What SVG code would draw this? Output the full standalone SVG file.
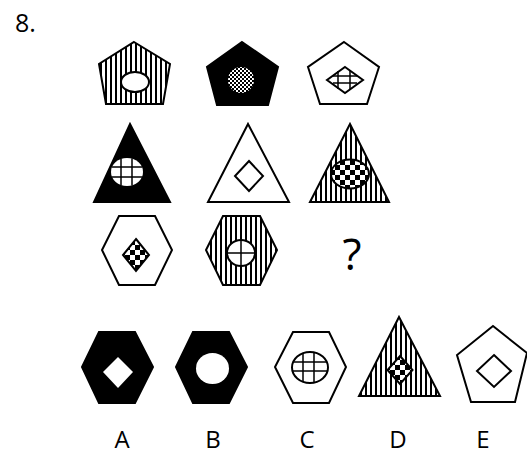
<svg xmlns="http://www.w3.org/2000/svg" width="527" height="455" viewBox="0 0 527 455">
<defs>
<pattern id="vs" width="5" height="5" patternUnits="userSpaceOnUse"><rect width="5" height="5" fill="#fff"/><rect width="2" height="5" fill="#000"/></pattern>
<pattern id="ck" width="10" height="10" patternUnits="userSpaceOnUse"><rect width="10" height="10" fill="#fff"/><rect width="5" height="5" fill="#000"/><rect x="5" y="5" width="5" height="5" fill="#000"/></pattern>
<pattern id="fd" width="4" height="4" patternUnits="userSpaceOnUse"><rect width="4" height="4" fill="#fff"/><rect width="2" height="2" fill="#000"/><rect x="2" y="2" width="2" height="2" fill="#000"/></pattern>
</defs>
<style>
.o{stroke:#000;stroke-width:2;stroke-linejoin:miter}
.w{fill:#fff}
.b{fill:#000}
.s{fill:url(#vs)}
.k{fill:url(#ck)}
.d{fill:url(#fd)}
.l{stroke:#000;stroke-width:1.5;fill:none}
.t{font-family:"Open Sans","Liberation Sans",sans-serif;fill:#000}
</style>
<rect width="527" height="455" fill="#fff"/>
<text class="t" x="15" y="32" font-size="25">8.</text>

<g id="r1c1">
<polygon class="o s" points="134,42 170,64 163,104 106,104 99,64"/>
<ellipse class="o w" cx="135" cy="82" rx="14" ry="10"/>
</g>
<g id="r1c2">
<polygon class="o b" points="242,42 278,67 268,105 217,105 207,67"/>
<ellipse class="d" cx="241" cy="80" rx="13" ry="13"/>
</g>
<g id="r1c3">
<polygon class="o w" points="344,42 379,67 367,104 320,104 308,67"/>
<polygon class="o w" points="345,67 363,80 345,93 327,80"/>
<path class="l" d="M338,71V89M350,71V89M333,76H357M333,83H357"/>
</g>

<g id="r2c1">
<polygon class="o b" points="130,124 170,202 94,202"/>
<ellipse class="w" cx="127" cy="172" rx="16" ry="14"/>
<path class="l" d="M121,158.5V185.5M132,158.5V185.5M111.5,167H142.5M111.5,177H142.5"/>
</g>
<g id="r2c2">
<polygon class="o w" points="248,124 289,202 208,202"/>
<polygon class="o w" points="249,161 263,176 249,191 235,176"/>
</g>
<g id="r2c3">
<polygon class="o s" points="350,124 389,202 310,202"/>
<ellipse class="o k" cx="350" cy="174" rx="19" ry="14.5"/>
</g>

<g id="r3c1">
<polygon class="o w" points="119,216 155,216 172,250 155,285 119,285 102,250"/>
<polygon class="o k" points="136,239 149,255 136,271 123,255"/>
</g>
<g id="r3c2">
<polygon class="o s" points="223,216 260,216 277,250 260,285 223,285 206,250"/>
<ellipse class="o w" cx="241" cy="253" rx="14" ry="13"/>
<path class="l" d="M241,240V266M227,253H255"/>
</g>
<g id="r3c3">
<text class="t" x="352" y="270" font-size="44" text-anchor="middle">?</text>
</g>

<g id="optA">
<polygon class="o b" points="99,332 135,332 153,367 135,403 99,403 82,367"/>
<polygon class="w" points="118,357 133,372 118,388 103,372"/>
<text class="t" x="122" y="448" font-size="24" text-anchor="middle">A</text>
</g>
<g id="optB">
<polygon class="o b" points="193,332 229,332 247,367 229,403 193,403 176,367"/>
<ellipse class="w" cx="212.5" cy="368.5" rx="16.5" ry="15.5"/>
<text class="t" x="213" y="448" font-size="24" text-anchor="middle">B</text>
</g>
<g id="optC">
<polygon class="o w" points="293,332 329,332 346,367 329,403 293,403 275,367"/>
<ellipse class="o w" cx="310" cy="367.5" rx="18" ry="15.5"/>
<path class="l" d="M303,353V382M314,353V382M293,362H327M293,371H327"/>
<text class="t" x="307" y="448" font-size="24" text-anchor="middle">C</text>
</g>
<g id="optD">
<polygon class="o s" points="399,317 440,396 359,396"/>
<polygon class="o k" points="400,356 412.5,370 400,384 387.5,370"/>
<text class="t" x="398" y="448" font-size="24" text-anchor="middle">D</text>
</g>
<g id="optE">
<polygon class="o w" points="493,326 527,353 515,402 471,402 457,355"/>
<polygon class="o w" points="494,355 511,371 494,387 477,371"/>
<text class="t" x="483" y="448" font-size="24" text-anchor="middle">E</text>
</g>
</svg>
